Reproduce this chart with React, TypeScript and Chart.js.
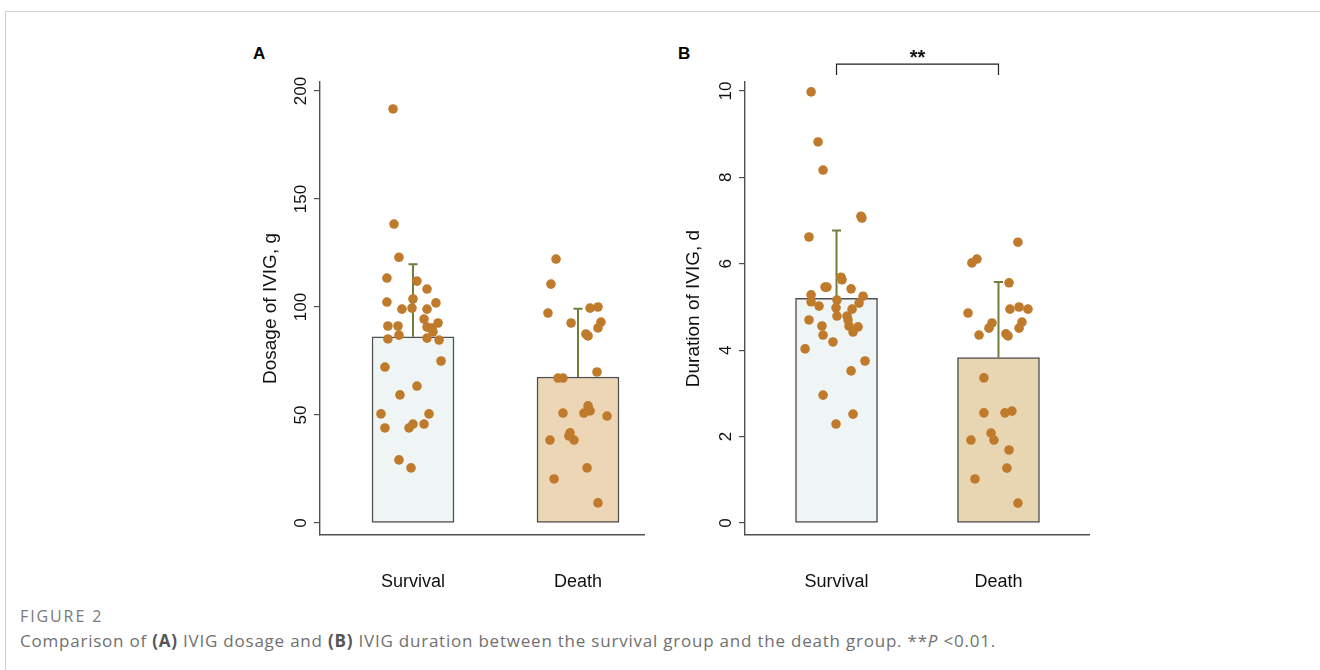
import React, { useEffect, useRef } from "react";
import { Chart, registerables } from "chart.js";

Chart.register(...registerables);

// ---------- data ----------
const categories = ["Survival", "Death"];

const dosageMeans = [86.2, 67.6];
const dosageUpper = [119.8, 99.2];
const durationMeans = [5.2, 3.83];
const durationUpper = [6.77, 5.58];

const dosageTicks = [0, 50, 100, 150, 200];
const durationTicks = [0, 2, 4, 6, 8, 10];

// Panel A – dosage (g), survival group
const dosageSurvival = [
  191.7, 138.4, 123, 113.4, 112, 108.3, 102.3, 103.7, 101.9, 99, 99.5, 99, 94.4,
  91.2, 91.2, 90.7, 90.3, 92.6, 88.5, 87, 85.2, 85.6, 84.7, 75, 72.2, 63.4, 59.3,
  50.5, 50.5, 44, 44, 45.8, 45.8, 29.2, 25.5,
];
const dosageSurvivalJitter = [
  -0.121, -0.115, -0.085, -0.158, 0.024, 0.085, -0.158, 0, 0.139, -0.067, -0.006,
  0.085, 0.067, -0.152, -0.091, 0.085, 0.115, 0.152, 0.121, -0.085, -0.152, 0.085,
  0.158, 0.17, -0.17, 0.024, -0.079, -0.194, 0.097, -0.17, -0.024, 0, 0.067,
  -0.085, -0.012,
];
// Panel A – dosage (g), death group
const dosageDeath = [
  122.2, 110.6, 97.2, 99.5, 100, 92.6, 93, 90.3, 87.5, 86.6, 69.9, 67.1, 67.1,
  54.2, 50.9, 51.9, 50.9, 49.5, 41.7, 40.3, 38.4, 38.4, 25.5, 20.4, 9.3,
];
const dosageDeathJitter = [
  -0.133, -0.164, -0.182, 0.073, 0.121, -0.042, 0.139, 0.121, 0.048, 0.061, 0.115,
  -0.121, -0.091, 0.061, 0.036, 0.073, -0.091, 0.176, -0.048, -0.055, -0.024,
  -0.17, 0.055, -0.145, 0.121,
];
// Panel B – duration (d), survival group
const durationSurvival = [
  9.98, 8.82, 8.17, 7.1, 7.06, 6.62, 5.69, 5.63, 5.46, 5.46, 5.42, 5.28, 5.12,
  5.02, 5.16, 5.25, 5.09, 4.98, 4.95, 4.79, 4.79, 4.7, 4.7, 4.56, 4.54, 4.42,
  4.56, 4.35, 4.19, 4.03, 3.75, 3.52, 2.96, 2.52, 2.29,
];
const durationSurvivalJitter = [
  -0.157, -0.114, -0.083, 0.151, 0.157, -0.17, 0.028, 0.034, -0.071, -0.059, 0.09,
  -0.157, -0.157, -0.108, 0.003, 0.164, 0.139, -0.003, 0.096, 0.003, 0.065, 0.071,
  -0.17, 0.077, 0.133, 0.102, -0.09, -0.083, -0.022, -0.194, 0.176, 0.09, -0.083,
  0.102, -0.003,
];
// Panel B – duration (d), death group
const durationDeath = [
  6.5, 6.11, 6.02, 5.56, 4.86, 4.95, 5.0, 4.95, 4.63, 4.51, 4.65, 4.51, 4.35,
  4.38, 4.33, 3.36, 2.55, 2.55, 2.59, 2.08, 1.92, 1.92, 1.69, 1.27, 1.02, 0.46,
];
const durationDeathJitter = [
  0.12, -0.133, -0.164, 0.065, -0.188, 0.071, 0.127, 0.182, -0.04, -0.059, 0.145,
  0.127, -0.12, 0.046, 0.059, -0.09, -0.09, 0.04, 0.083, -0.046, -0.028, -0.17,
  0.065, 0.052, -0.145, 0.12,
];

// ---------- styles ----------
const FONT = '"Liberation Sans", Arial, Helvetica, sans-serif';
const CAPTION_FONT = '"Open Sans", "Noto Sans", sans-serif';
const AXIS = "#505050";
const DOT = "#C07A2C";
const ERR = "#6E7F3D";

const errorBarsPlugin = {
  id: "errorBars",
  afterDatasetDraw(chart: any, args: any, opts: any) {
    if (args.meta.type !== "bar") return;
    const xs = chart.scales.x;
    const ys = chart.scales.y;
    const ctx = chart.ctx;
    ctx.save();
    ctx.strokeStyle = ERR;
    ctx.lineWidth = 2;
    (opts.means as number[]).forEach((m, i) => {
      const x = xs.getPixelForValue(i + 1);
      const y0 = ys.getPixelForValue(m);
      const y1 = ys.getPixelForValue(opts.upper[i]);
      ctx.beginPath();
      ctx.moveTo(x, y0);
      ctx.lineTo(x, y1);
      ctx.moveTo(x - 4.5, y1);
      ctx.lineTo(x + 4.5, y1);
      ctx.stroke();
    });
    ctx.restore();
  },
};

const rotatedTicksPlugin = {
  id: "rotTicks",
  afterDraw(chart: any, _args: any, opts: any) {
    const s = chart.scales.y;
    const ctx = chart.ctx;
    ctx.save();
    ctx.font = `17px ${FONT}`;
    ctx.fillStyle = "#111";
    ctx.textAlign = "center";
    ctx.textBaseline = "alphabetic";
    s.ticks.forEach((t: any) => {
      const y = s.getPixelForValue(t.value);
      ctx.save();
      ctx.translate(s.right - opts.offset, y);
      ctx.rotate(-Math.PI / 2);
      ctx.fillText(String(t.value), 0, 0);
      ctx.restore();
    });
    ctx.restore();
  },
};

const bracketPlugin = {
  id: "bracket",
  afterDraw(chart: any, _args: any, opts: any) {
    if (!opts || !opts.show) return;
    const xs = chart.scales.x;
    const ys = chart.scales.y;
    const ctx = chart.ctx;
    const x1 = xs.getPixelForValue(opts.from);
    const x2 = xs.getPixelForValue(opts.to);
    const yt = ys.getPixelForValue(opts.top);
    const yb = ys.getPixelForValue(opts.bottom);
    ctx.save();
    ctx.strokeStyle = "#222";
    ctx.lineWidth = 1.2;
    ctx.beginPath();
    ctx.moveTo(x1, yb);
    ctx.lineTo(x1, yt);
    ctx.lineTo(x2, yt);
    ctx.lineTo(x2, yb);
    ctx.stroke();
    ctx.fillStyle = "#111";
    ctx.font = `bold 20px ${FONT}`;
    ctx.textAlign = "center";
    ctx.textBaseline = "middle";
    ctx.fillText(opts.label, (x1 + x2) / 2, ys.getPixelForValue(opts.labelAt));
    ctx.restore();
  },
};

type PanelSpec = {
  survival: number[];
  survivalJitter: number[];
  death: number[];
  deathJitter: number[];
  means: number[];
  upper: number[];
  ticks: number[];
  yMin: number;
  yMax: number;
  xMin: number;
  xMax: number;
  yWidth: number;
  title: string;
  titlePad: number;
  barColors: string[];
  bracket?: any;
};

function buildConfig(p: PanelSpec): any {
  const pts = (vals: number[], jit: number[], c: number) =>
    vals.map((v, i) => ({ x: c + jit[i], y: v }));
  const dotStyle = {
    pointRadius: 4.8,
    pointHoverRadius: 4.8,
    backgroundColor: DOT,
    borderWidth: 0,
    order: 1,
  };
  return {
    type: "bar",
    data: {
      datasets: [
        { type: "scatter", data: pts(p.survival, p.survivalJitter, 1), ...dotStyle },
        { type: "scatter", data: pts(p.death, p.deathJitter, 2), ...dotStyle },
        {
          type: "bar",
          data: p.means.map((m, i) => ({ x: i + 1, y: m })),
          backgroundColor: p.barColors,
          borderColor: AXIS,
          borderWidth: 1.5,
          borderSkipped: false,
          barThickness: 82,
          order: 2,
        },
      ],
    },
    options: {
      animation: false,
      responsive: false,
      maintainAspectRatio: false,
      events: [],
      layout: { autoPadding: false, padding: { top: 42, left: 0, right: 0, bottom: 0 } },
      plugins: {
        legend: { display: false },
        tooltip: { enabled: false },
        errorBars: { means: p.means, upper: p.upper },
        rotTicks: { offset: 14 },
        bracket: p.bracket || { show: false },
      },
      scales: {
        x: {
          type: "linear",
          min: p.xMin,
          max: p.xMax,
          offset: false,
          grid: { display: false },
          border: { display: true, color: AXIS, width: 1.4 },
          afterBuildTicks: (s: any) => {
            s.ticks = categories.map((_, i) => ({ value: i + 1 }));
          },
          afterFit: (s: any) => {
            s.height = 65;
          },
          ticks: {
            autoSkip: false,
            maxRotation: 0,
            minRotation: 0,
            padding: 28,
            color: "#111",
            font: { family: FONT, size: 18 },
            callback: (v: number) => categories[Math.round(v) - 1] ?? "",
          },
        },
        y: {
          type: "linear",
          min: p.yMin,
          max: p.yMax,
          afterBuildTicks: (s: any) => {
            s.ticks = p.ticks.map((v) => ({ value: v }));
          },
          afterFit: (s: any) => {
            s.width = p.yWidth;
          },
          grid: {
            display: true,
            drawOnChartArea: false,
            drawTicks: true,
            tickLength: 6,
            color: AXIS,
            lineWidth: 1.2,
          },
          border: { display: true, color: AXIS, width: 1.4 },
          ticks: { display: false },
          title: {
            display: true,
            text: p.title,
            color: "#111",
            font: { family: FONT, size: 19 },
            padding: { top: p.titlePad, bottom: 0 },
          },
        },
      },
    },
    plugins: [errorBarsPlugin, rotatedTicksPlugin, bracketPlugin],
  };
}

const panelA: PanelSpec = {
  survival: dosageSurvival,
  survivalJitter: dosageSurvivalJitter,
  death: dosageDeath,
  deathJitter: dosageDeathJitter,
  means: dosageMeans,
  upper: dosageUpper,
  ticks: dosageTicks,
  yMin: -5.56,
  yMax: 204.17,
  xMin: 0.4364,
  xMax: 2.406,
  yWidth: 90,
  title: "Dosage of IVIG, g",
  titlePad: 29.6,
  barColors: ["#EFF5F5", "#EDD6B5"],
};

const panelB: PanelSpec = {
  survival: durationSurvival,
  survivalJitter: durationSurvivalJitter,
  death: durationDeath,
  deathJitter: durationDeathJitter,
  means: durationMeans,
  upper: durationUpper,
  ticks: durationTicks,
  yMin: -0.278,
  yMax: 10.208,
  xMin: 0.435,
  xMax: 2.565,
  yWidth: 85,
  title: "Duration of IVIG, d",
  titlePad: 22.6,
  barColors: ["#EFF5F5", "#E8D6B3"],
  bracket: { show: true, from: 1, to: 2, top: 10.62, bottom: 10.37, labelAt: 10.76, label: "**" },
};

function Panel({ spec, left, top, width, height }: { spec: PanelSpec; left: number; top: number; width: number; height: number }) {
  const ref = useRef<HTMLCanvasElement | null>(null);
  useEffect(() => {
    if (!ref.current) return;
    const chart = new Chart(ref.current, buildConfig(spec));
    return () => chart.destroy();
  }, [spec]);
  return (
    <canvas
      ref={ref}
      width={width}
      height={height}
      style={{ position: "absolute", left, top, width, height }}
    />
  );
}

export default function App() {
  return (
    <div
      style={{
        position: "absolute",
        left: 0,
        top: 0,
        width: 1320,
        height: 670,
        background: "#fff",
        overflow: "hidden",
        fontFamily: FONT,
      }}
    >
      <div
        style={{
          position: "absolute",
          left: 5,
          top: 11,
          width: 1315,
          height: 659,
          borderTop: "1px solid #cfcfcf",
          borderLeft: "1px solid #cfcfcf",
        }}
      />
      <div style={{ position: "absolute", left: 253, top: 44, fontWeight: "bold", fontSize: 17, color: "#000" }}>A</div>
      <div style={{ position: "absolute", left: 678, top: 44, fontWeight: "bold", fontSize: 17, color: "#000" }}>B</div>
      <Panel spec={panelA} left={230} top={40} width={415} height={560} />
      <Panel spec={panelB} left={660} top={40} width={430} height={560} />
      <div
        style={{
          position: "absolute",
          left: 20,
          top: 606,
          fontFamily: CAPTION_FONT,
          fontSize: 16,
          fontWeight: 500,
          color: "#7a7a7a",
          letterSpacing: 1.9,
          lineHeight: "20px",
        }}
      >
        FIGURE 2
      </div>
      <div
        style={{
          position: "absolute",
          left: 20,
          top: 629,
          fontFamily: CAPTION_FONT,
          fontSize: 17,
          color: "#707070",
          whiteSpace: "nowrap",
          letterSpacing: 0.78,
          lineHeight: "24px",
        }}
      >
        Comparison of <b style={{ fontWeight: 700, color: "#555" }}>(A)</b> IVIG dosage and{" "}
        <b style={{ fontWeight: 700, color: "#555" }}>(B)</b> IVIG duration between the survival group and the death
        group. **<i>P</i> &lt;0.01.
      </div>
    </div>
  );
}
